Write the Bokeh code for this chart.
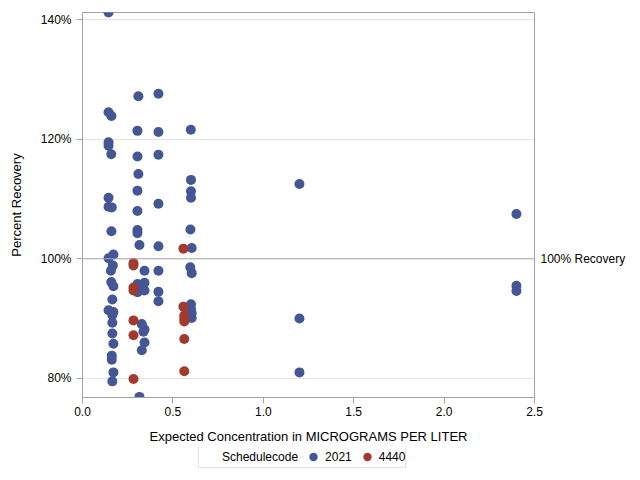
from bokeh.plotting import figure
from bokeh.layouts import column
from bokeh.models import (Range1d, FixedTicker, LinearAxis, Span, Legend, LegendItem,
                          PrintfTickFormatter, NumeralTickFormatter)
from bokeh.embed import file_html
from bokeh.resources import INLINE

# ---- data ----
x_2021 = [0.144, 0.309, 0.42, 0.144, 0.16, 0.304, 0.42, 0.599, 0.144, 0.144,
          0.159, 0.304, 0.42, 0.309, 0.60, 0.304, 0.60, 0.144, 0.144, 0.162,
          0.60, 0.42, 0.304, 0.16, 0.304, 0.304, 0.597, 0.315, 0.42, 0.604,
          0.171, 0.144, 0.168, 0.157, 0.343, 0.42, 0.596, 0.604, 0.159, 0.171,
          0.304, 0.304, 0.343, 0.343, 0.42, 0.42, 0.165, 0.144, 0.171, 0.165,
          0.165, 0.60, 0.60, 0.604, 0.604, 0.328, 0.337, 0.343, 0.343, 0.328,
          0.165, 0.171, 0.162, 0.162, 0.171, 0.165, 0.315, 1.2, 1.2, 1.2,
          2.4, 2.4, 2.4]
y_2021 = [141.2, 127.2, 127.6, 124.5, 123.9, 121.4, 121.2, 121.6, 119.5, 118.9,
          117.5, 117.1, 117.4, 114.2, 113.2, 111.4, 111.3, 110.2, 108.7, 108.6,
          110.2, 109.2, 108.0, 104.6, 104.8, 104.3, 104.9, 102.3, 102.1, 101.8,
          100.7, 100.1, 98.9, 98.0, 98.0, 98.0, 98.6, 97.6, 96.1, 95.4,
          95.8, 94.4, 96.0, 94.7, 94.5, 92.9, 93.2, 91.4, 91.1, 90.6,
          89.3, 92.4, 91.6, 90.9, 90.1, 89.1, 87.8, 88.2, 86.0, 84.7,
          87.5, 85.8, 83.8, 83.1, 81.0, 79.5, 76.9, 112.5, 90.0, 81.0,
          107.5, 95.5, 94.6]
x_4440 = [0.558, 0.282, 0.282, 0.282, 0.282, 0.558, 0.563, 0.563, 0.563,
          0.282, 0.282, 0.563, 0.282, 0.563]
y_4440 = [101.7, 99.3, 98.9, 95.2, 94.7, 92.0, 90.5, 90.0, 89.5,
          89.7, 87.2, 86.6, 79.9, 81.2]

x_ticks = [0.0, 0.5, 1.0, 1.5, 2.0, 2.5]
y_ticks = [80, 100, 120, 140]
y_grid_ticks = [80, 120, 140]
ref_value = 100
ref_label = "100% Recovery"
series_names = ["2021", "4440"]
legend_title = "Schedulecode"
x_title = "Expected Concentration in MICROGRAMS PER LITER"
y_title = "Percent Recovery"

FONT = "Liberation Sans"
BLUE = "#445694"
RED = "#A23A2E"
LINE = "#A0A3A8"
MSIZE = 10

p = figure(width=640, height=446, output_backend="svg", toolbar_location=None,
           x_range=Range1d(0, 2.5), y_range=Range1d(76.8, 141.2),
           min_border_left=82, min_border_right=106, min_border_top=12,
           min_border_bottom=48)
p.background_fill_color = "white"
p.border_fill_color = "white"
p.outline_line_color = LINE

# axes
for ax in (p.xaxis[0], p.yaxis[0]):
    ax.axis_line_color = LINE
    ax.major_tick_line_color = LINE
    ax.minor_tick_line_color = None
    ax.major_tick_in = 0
    ax.major_tick_out = 6
    ax.major_label_text_font = FONT
    ax.major_label_text_font_size = "12px"
    ax.major_label_text_color = "black"
    ax.axis_label_text_font = FONT
    ax.axis_label_text_font_size = "13px"
    ax.axis_label_text_font_style = "normal"
    ax.axis_label_text_color = "black"

p.xaxis.ticker = FixedTicker(ticks=x_ticks)
p.xaxis.formatter = NumeralTickFormatter(format="0.0")
p.xaxis.axis_label = x_title
p.xaxis.major_label_standoff = 3
p.xaxis.axis_label_standoff = 10

p.yaxis.ticker = FixedTicker(ticks=y_ticks)
p.yaxis.formatter = PrintfTickFormatter(format="%d%%")
p.yaxis.axis_label = y_title
p.yaxis.major_label_standoff = 5
p.yaxis.axis_label_standoff = 14

# grid
p.xgrid.visible = False
p.ygrid.ticker = FixedTicker(ticks=y_grid_ticks)
p.ygrid.grid_line_color = "#E4E4E4"

# reference line + label axis on right
p.add_layout(Span(location=ref_value, dimension="width", line_color=LINE, line_width=1))
rax = LinearAxis(ticker=FixedTicker(ticks=[ref_value]),
                 major_label_overrides={ref_value: ref_label})
rax.axis_line_color = None
rax.major_tick_line_color = None
rax.minor_tick_line_color = None
rax.major_tick_out = 0
rax.major_label_standoff = 6
rax.major_label_text_font = FONT
rax.major_label_text_font_size = "12px"
rax.major_label_text_color = "black"
p.add_layout(rax, "right")

# points
p.scatter(x_2021, y_2021, size=MSIZE, fill_color=BLUE, line_color=None)
p.scatter(x_4440, y_4440, size=MSIZE, fill_color=RED, line_color=None)

# ---- legend strip below the chart (its ranges hide the series' points) ----
lg = figure(width=640, height=34, output_backend="svg", toolbar_location=None,
            x_range=Range1d(10, 11), y_range=Range1d(0, 1),
            x_axis_type=None, y_axis_type=None,
            min_border_left=0, min_border_right=0, min_border_top=0, min_border_bottom=0)
lg.outline_line_color = None
lg.background_fill_color = "white"
lg.border_fill_color = "white"
lg.grid.visible = False
d0 = lg.scatter([], [], size=1, fill_alpha=0, line_alpha=0)
d1 = lg.scatter(x_2021, y_2021, size=MSIZE, fill_color=BLUE, line_color=None)
d2 = lg.scatter(x_4440, y_4440, size=MSIZE, fill_color=RED, line_color=None)

legend = Legend(items=[LegendItem(label=legend_title, renderers=[d0]),
                       LegendItem(label=series_names[0], renderers=[d1]),
                       LegendItem(label=series_names[1], renderers=[d2])],
                orientation="horizontal", location=(116, 12))
legend.label_text_font = FONT
legend.label_text_font_size = "12px"
legend.label_text_color = "black"
legend.glyph_width = 22
legend.glyph_height = 21
legend.label_height = 21
legend.label_standoff = 1
legend.spacing = 4
legend.padding = 0
legend.margin = 0
legend.border_line_color = "#C8C8C8"
legend.background_fill_alpha = 1
lg.add_layout(legend, "center")

layout = column(p, lg, spacing=0)

open("out.html", "w").write(file_html(layout, INLINE))
